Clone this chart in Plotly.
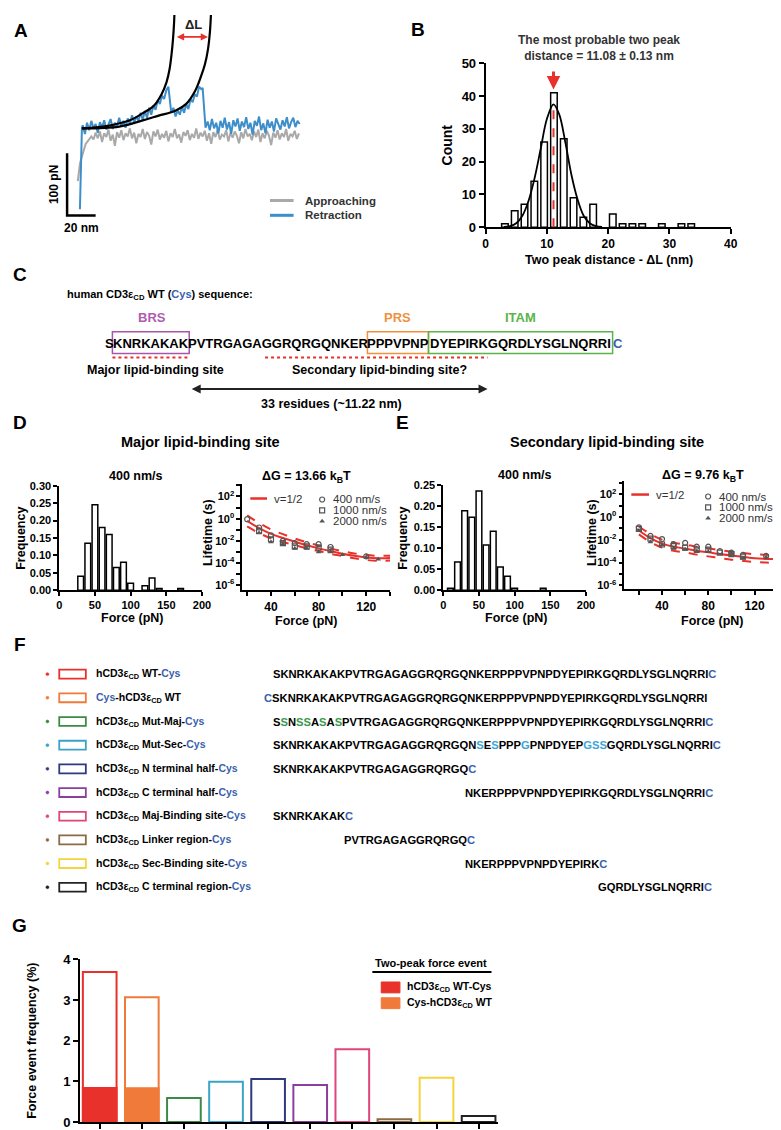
import plotly.graph_objects as go

W, H = 781, 1130
FONT = "Arial, 'Liberation Sans', Helvetica, sans-serif"
CYS = "#3b5fae"
RED = "#e8312b"

# ---------------- Panel A: force-distance traces (nm, pN)
approach_x = [-1.5, -1.0, -0.5, 0.0, 0.8, 1.6, 2.4, 3.2, 4.0, 5.0, 6.0, 7.0, 8.0,
              9.5, 11, 12.5, 14, 15.5, 17, 18.5, 20, 21.5, 23, 24.5, 26, 27.5, 29, 30.5, 32, 33.5, 35,
              36.5, 38, 39.5, 41, 42.5, 44, 45.5, 47, 48.5, 50, 51.5, 53, 54.5, 56, 57.5, 59, 60.5, 62,
              63.5, 65, 66.5, 68, 69.5, 71, 72.5, 74, 75.5, 77, 78.5, 80, 81.5, 83, 84.5, 86, 87.5, 89,
              90.5, 92, 93.5, 95, 96.5, 98, 99.5, 101, 102.5, 104, 105.5, 107, 108.5, 110, 111.5, 113,
              114.5, 116, 117.5, 119, 120.5, 122, 123.5, 125, 126.5, 128, 129.5, 131, 132.5, 134, 135.5,
              137, 138.5, 140, 141.5, 143, 144.5, 146, 147.5, 149, 150.5, 152, 153.5]
approach_y = [-80, -68, -60, -52, -45, -38, -31, -25, -20, -17, -14, -11, -8,
              -13, -2, -11, 0, -17, -3, -9, 3, -15, -5,
              -23, -1, -10, 2, -14, -3, -8, 5, -11, -2,
              -19, -4, -9, 4, -12, -1, -7, -21, 0, -8,
              3, -13, -4, -10, 1, -16, -3, -9, 4, -11,
              -5, -18, -1, -7, 2, -14, -4, -10, 5, -12,
              -2, -8, 1, -15, -3, -20, -1, -9, 3, -13,
              -5, -8, 2, -16, -2, -10, 0, -7, -19, -1,
              -11, 4, -8, -4, -14, 0, -9, 3, -17, -3,
              -11, 1, -7, -22, -2, -10, 2, -13, -3, -9,
              4, -15, -4, -8, 1, -12, -3]
retract_x = [0.0, 0.2, 0.4, 0.7, 1.0, 1.4,
             2, 3.5, 5, 6.5, 8, 9.5, 11, 12.5, 14, 15.5, 17, 18.5, 20, 21.5, 23, 24.5, 26, 27.5, 29,
             30.5, 32, 33.5, 35, 36.5, 38, 39.5, 41, 42.5, 44, 45.5, 47, 48.5, 50, 51.5, 53, 54.5, 56,
             57.5, 59, 60.5, 62, 63, 64, 65.5, 67, 68.5, 70, 71.5, 73, 74.5, 76, 77.5, 79, 80.5, 82,
             83.5, 85, 86, 87, 88, 89.5, 91, 92.5, 94, 95.5, 97, 98.5, 100, 101.5, 103, 104.5, 106,
             107.5, 109, 110.5, 112, 113.5, 115, 116.5, 118, 119.5, 121, 122.5, 124, 125.5, 127, 128.5,
             130, 131.5, 133, 134.5, 136, 137.5, 139, 140.5, 142, 143.5, 145, 146.5, 148, 149.5, 151,
             152.5, 154]
retract_y = [-125, -100, -70, -38, -12, 6,
             10, -4, 14, 2, 17, 5, 12, -2, 15, 6, 18, 3, 11, 20, 4, 14, 8, 22, 9,
             17, 6, 21, 12, 26, 14, 24, 17, 30, 19, 33, 22, 38, 27, 42, 35, 50, 44,
             58, 52, 66, 72, 48, 30, 38, 24, 34, 27, 40, 30, 44, 36, 52, 47, 60, 56,
             72, 68, 70, 30, 6, 16, 2, 20, 5, 14, -3, 17, 6, 22, 3, 15, -4,
             18, 8, 21, 1, 16, 7, 23, 4, 14, -5, 17, 9, 24, 2, 13,
             -3, 19, 6, 16, 0, 21, 10, 3, 18, 8, 23, 5, 15, 22, 7,
             17, 12]
wlc1_x = [1.4, 20.7, 34.5, 43.5, 51.8, 57.3, 60.7, 62.8, 64.2, 65.2, 65.9, 66.2]
wlc1_y = [4.8, 9.5, 17.5, 28.6, 41.3, 60.3, 79.4, 100, 123.8, 147.6, 171.4, 187.3]
wlc2_x = [1.4, 27.6, 43.5, 55.2, 66.9, 74.5, 80.7, 84.9, 87.6, 89.7, 91.1, 91.8]
wlc2_y = [4.8, 7.9, 17.5, 25.4, 33.3, 44.4, 65.1, 88.9, 108, 131.7, 160.3, 187.3]
dL_from, dL_to, dL_level = 66.9, 89.7, 152
scale_nm, scale_pN = 20, 100

# ---------------- Panel B: two peak distance histogram
dist_centers = [3.15, 4.75, 6.35, 7.95, 9.55, 11.15, 12.75, 14.35, 15.95, 17.55,
                20.75, 22.35, 23.95, 25.55, 28.75, 31.95, 33.55]
dist_counts = [1, 5, 7, 14, 26, 41, 27, 9, 3, 7, 4, 1, 1, 1, 1, 1, 1]
gfit_x = [3, 4, 5, 6, 7, 8, 9, 10, 11.08, 12, 13, 14, 15, 16, 17, 18, 19]
gfit_y = [0.05, 0.3, 1.2, 3.5, 8, 15, 24, 33, 37.5, 34.5, 26, 16, 8.5, 3.5, 1.2, 0.3, 0.05]
peak_dist = 11.08

# ---------------- Panel D / E: force histograms and lifetimes
force_centers_D = [30, 40, 50, 60, 70, 80, 90, 100, 120, 130, 140, 170]
force_freq_D = [0.04, 0.135, 0.245, 0.18, 0.16, 0.065, 0.08, 0.02, 0.013, 0.035, 0.005, 0.005]
force_centers_E = [10, 20, 30, 40, 50, 60, 70, 80, 90, 100, 140]
force_freq_E = [0.005, 0.067, 0.188, 0.173, 0.235, 0.107, 0.14, 0.055, 0.033, 0.005, 0.005]

F400_D = [20, 30, 40, 50, 60, 70, 80, 90, 120]
tau400_D = [0.89, 0.16, 0.032, 0.01, 0.0063, 0.005, 0.005, 0.0028, 0.0004]
F1000_D = [30, 40, 50, 60, 70, 80, 90]
tau1000_D = [0.079, 0.014, 0.0063, 0.0032, 0.0032, 0.0025, 0.0016]
F2000_D = [30, 40, 50, 60, 70, 80, 90, 100, 120, 130]
tau2000_D = [0.05, 0.0079, 0.005, 0.002, 0.002, 0.001, 0.001, 0.00056, 0.00032, 0.00022]

F400_E = [20, 30, 40, 50, 60, 70, 80, 90, 100, 110, 130]
tau400_E = [0.126, 0.022, 0.0117, 0.0042, 0.0054, 0.0025, 0.0025, 0.001, 0.00074, 0.00047, 0.00038]
F1000_E = [20, 30, 40, 50, 60, 70, 80, 90, 100, 110]
tau1000_E = [0.093, 0.0126, 0.0039, 0.0028, 0.0021, 0.0014, 0.0014, 0.00074, 0.00056, 0.00033]
F2000_E = [20, 30, 40, 50, 60, 70, 80, 100, 110, 130, 140]
tau2000_E = [0.066, 0.0066, 0.0035, 0.0017, 0.0014, 0.0009, 0.0009, 0.00063, 0.00024, 0.0003, 0.0001]

fitF = [20, 30, 40, 50, 60, 70, 80, 90, 100, 110, 120, 130, 140]
fit_D = [0.63, 0.14, 0.043, 0.018, 0.0083, 0.004, 0.0021, 0.0012, 0.0007, 0.00045, 0.00032, 0.00027, 0.00028]
fit_D_hi = [2.0, 0.4, 0.107, 0.04, 0.0166, 0.0076, 0.0039, 0.002, 0.0012, 0.00074, 0.00052, 0.00045, 0.00046]
fit_D_lo = [0.2, 0.05, 0.017, 0.008, 0.0042, 0.0021, 0.0012, 0.00068, 0.00043, 0.00027, 0.00019, 0.00016, 0.00017]
fit_E = [0.066, 0.014, 0.0047, 0.0025, 0.0017, 0.0011, 0.0008, 0.00056, 0.00041, 0.00032, 0.00024, 0.00021, 0.0002]
fit_E_hi = [0.148, 0.032, 0.0105, 0.0056, 0.0039, 0.0025, 0.0018, 0.00126, 0.00091, 0.00071, 0.00054, 0.00048, 0.00045]
fit_E_lo = [0.03, 0.0063, 0.0021, 0.0011, 0.00078, 0.0005, 0.00035, 0.00025, 0.00018, 0.00014, 0.00011, 0.0001, 0.00009]

# ---------------- Panel F / G: constructs
constructs = ["WT-Cys", "Cys-WT", "Mut-Maj-Cys", "Mut-Sec-Cys", "N terminal half-Cys",
              "C terminal half-Cys", "Maj-Binding site-Cys", "Linker region-Cys",
              "Sec-Binding site-Cys", "C terminal region-Cys"]
construct_colors = ["#e8312b", "#f07a3a", "#3b8a45", "#3aa3c6", "#2d3a80", "#8a3f9e",
                    "#e0457b", "#8b6a44", "#f3d43c", "#222222"]
event_freq = [3.69, 3.07, 0.59, 0.99, 1.06, 0.91, 1.79, 0.07, 1.09, 0.15]
two_peak_freq = [0.84, 0.83]

fig = go.Figure()

# ---------- helpers (pixel <-> paper)
def dx(a, b):
    return [a / W, b / W]

def dy(top, bottom):
    return [1 - bottom / H, 1 - top / H]

def tf(size=12):
    return dict(family=FONT, size=size, color="black", weight="bold")

def axis(**kw):
    d = dict(showline=True, linecolor="black", linewidth=1.8, ticks="outside", ticklen=5,
             tickwidth=1.5, tickcolor="black", showgrid=False, zeroline=False, tickfont=tf(12))
    d.update(kw)
    return d

# ---------- Panel A traces
fig.add_trace(go.Scatter(x=approach_x, y=approach_y, mode="lines",
                         line=dict(color="#a9a9a9", width=2), xaxis="x", yaxis="y"))
fig.add_trace(go.Scatter(x=retract_x, y=retract_y, mode="lines",
                         line=dict(color="#3d8ec9", width=2), xaxis="x", yaxis="y"))
for cx, cy in [(wlc1_x, wlc1_y), (wlc2_x, wlc2_y)]:
    fig.add_trace(go.Scatter(x=cx, y=cy, mode="lines", line=dict(color="black", width=2.2, shape="spline"),
                             xaxis="x", yaxis="y"))
sx0, sy0 = -9, -135
fig.add_trace(go.Scatter(x=[sx0, sx0, sx0 + scale_nm], y=[sy0 + scale_pN, sy0, sy0], mode="lines",
                         line=dict(color="black", width=2.5), xaxis="x", yaxis="y"))

# ---------- Panel B
fig.add_trace(go.Bar(x=dist_centers, y=dist_counts, width=1.07,
                     marker=dict(color="white", line=dict(color="black", width=1.5)),
                     xaxis="x2", yaxis="y2"))
fig.add_trace(go.Scatter(x=[peak_dist, peak_dist], y=[0, max(gfit_y)], mode="lines",
                         line=dict(color=RED, width=2, dash="dash"), xaxis="x2", yaxis="y2"))
fig.add_trace(go.Scatter(x=gfit_x, y=gfit_y, mode="lines", line=dict(color="black", width=1.8, shape="spline"),
                         xaxis="x2", yaxis="y2"))

# ---------- Panels D/E histograms
for cen, fr, xa, ya in [(force_centers_D, force_freq_D, "x3", "y3"), (force_centers_E, force_freq_E, "x5", "y5")]:
    fig.add_trace(go.Bar(x=cen, y=fr, width=8,
                         marker=dict(color="white", line=dict(color="black", width=1.5)),
                         xaxis=xa, yaxis=ya))

# ---------- Panels D/E lifetimes
MK = "#555555"
for (f4, t4, f1, t1, f2, t2, fit, hi, lo, xa, ya) in [
        (F400_D, tau400_D, F1000_D, tau1000_D, F2000_D, tau2000_D, fit_D, fit_D_hi, fit_D_lo, "x4", "y4"),
        (F400_E, tau400_E, F1000_E, tau1000_E, F2000_E, tau2000_E, fit_E, fit_E_hi, fit_E_lo, "x6", "y6")]:
    for band in (hi, lo):
        fig.add_trace(go.Scatter(x=fitF, y=band, mode="lines", line=dict(color=RED, width=2, dash="dash", shape="spline"),
                                 xaxis=xa, yaxis=ya))
    fig.add_trace(go.Scatter(x=fitF, y=fit, mode="lines", line=dict(color=RED, width=2, shape="spline"),
                             xaxis=xa, yaxis=ya))
    fig.add_trace(go.Scatter(x=f4, y=t4, mode="markers", marker=dict(symbol="circle-open", size=5, color=MK, line=dict(width=1.2)),
                             xaxis=xa, yaxis=ya))
    fig.add_trace(go.Scatter(x=f1, y=t1, mode="markers", marker=dict(symbol="square-open", size=5, color=MK, line=dict(width=1.2)),
                             xaxis=xa, yaxis=ya))
    fig.add_trace(go.Scatter(x=f2, y=t2, mode="markers", marker=dict(symbol="triangle-up", size=5, color=MK),
                             xaxis=xa, yaxis=ya))

# ---------- Panel G bars
fig.add_trace(go.Bar(x=constructs, y=event_freq, width=0.8,
                     marker=dict(color="white", line=dict(color=construct_colors, width=2)),
                     xaxis="x7", yaxis="y7"))
fig.add_trace(go.Bar(x=constructs[:2], y=two_peak_freq, width=0.8,
                     marker=dict(color=construct_colors[:2], line=dict(color=construct_colors[:2], width=2)),
                     xaxis="x7", yaxis="y7"))

# ---------- legend marker glyphs (pixel overlay)
for lx, ly in [(316, 491), (708, 488)]:
    fig.add_trace(go.Scatter(x=[lx], y=[ly], mode="markers", marker=dict(symbol="circle-open", size=5, color=MK, line=dict(width=1.2)),
                             xaxis="x8", yaxis="y8"))
    fig.add_trace(go.Scatter(x=[lx], y=[ly + 11], mode="markers", marker=dict(symbol="square-open", size=5, color=MK, line=dict(width=1.2)),
                             xaxis="x8", yaxis="y8"))
    fig.add_trace(go.Scatter(x=[lx], y=[ly + 22], mode="markers", marker=dict(symbol="triangle-up", size=5, color=MK),
                             xaxis="x8", yaxis="y8"))

# ---------- axes
decades = [-6, -5, -4, -3, -2, -1, 0, 1, 2, 3]
log_vals = [10 ** d for d in decades]
log_text = ["10<sup>%d</sup>" % d if d % 2 == 0 else "" for d in decades]

fig.update_layout(
    xaxis=dict(domain=dx(55, 300), range=[-10.35, 158.7], visible=False),
    yaxis=dict(domain=dy(0, 215), range=[-153.9, 187.3], visible=False),
    xaxis2=axis(domain=dx(482, 731), range=[0, 40], tickvals=[0, 10, 20, 30, 40], anchor="y2", tickfont=tf(12)),
    yaxis2=axis(domain=dy(49, 215), range=[0, 50], tickvals=[0, 10, 20, 30, 40, 50], anchor="x2", tickfont=tf(13)),
    xaxis3=axis(domain=dx(49, 194), range=[0, 200], tickvals=[0, 50, 100, 150, 200], anchor="y3",
                tickfont=tf(11), ticklen=4),
    yaxis3=axis(domain=dy(477, 583), range=[0, 0.30], tickvals=[0, 0.05, 0.10, 0.15, 0.20, 0.25, 0.30],
                tickformat=".2f", anchor="x3", tickfont=tf(11), ticklen=4),
    xaxis4=axis(domain=dx(235, 385), range=[16, 140], tickvals=[20, 40, 60, 80, 100, 120, 140],
                ticktext=["", "40", "", "80", "", "120", ""], anchor="y4", tickfont=tf(12), ticklen=4),
    yaxis4=axis(domain=dy(475, 583), type="log", range=[-6.45, 3.15], tickvals=log_vals, ticktext=log_text,
                anchor="x4", tickfont=tf(11), ticklen=4),
    xaxis5=axis(domain=dx(439, 584), range=[0, 200], tickvals=[0, 50, 100, 150, 200], anchor="y5",
                tickfont=tf(11), ticklen=4),
    yaxis5=axis(domain=dy(476, 583), range=[0, 0.25], tickvals=[0, 0.05, 0.10, 0.15, 0.20, 0.25],
                tickformat=".2f", anchor="x5", tickfont=tf(11), ticklen=4),
    xaxis6=axis(domain=dx(623, 781), range=[7.5, 142], tickvals=[20, 40, 60, 80, 100, 120, 140],
                ticktext=["", "40", "", "80", "", "120", ""], anchor="y6", tickfont=tf(12), ticklen=4),
    yaxis6=axis(domain=dy(472, 582), type="log", range=[-6.35, 3.2], tickvals=log_vals, ticktext=log_text,
                anchor="x6", tickfont=tf(11), ticklen=4),
    xaxis7=axis(domain=dx(70, 495), range=[-0.47, 9.47], type="category", showticklabels=False, anchor="y7"),
    yaxis7=axis(domain=dy(957, 1122), range=[0, 4], tickvals=[0, 1, 2, 3, 4], anchor="x7", tickfont=tf(13)),
    xaxis8=dict(domain=[0, 1], range=[0, W], visible=False, anchor="y8"),
    yaxis8=dict(domain=[0, 1], range=[H, 0], visible=False, anchor="x8"),
)

# ---------- annotations & shapes
ann = []
shp = []

def T(x, y, s, size=12, color="black", xanchor="center", angle=0, bold=True):
    ann.append(dict(x=x, y=y, xref="x8", yref="y8", text=s, showarrow=False, xanchor=xanchor, yanchor="middle",
                    textangle=angle, font=dict(family=FONT, size=size, color=color,
                                               weight="bold" if bold else "normal")))

def L(x0, y0, x1, y1, color="black", width=2, dash="solid"):
    shp.append(dict(type="line", xref="x8", yref="y8", x0=x0, y0=y0, x1=x1, y1=y1,
                    line=dict(color=color, width=width, dash=dash)))

def R(x0, y0, x1, y1, color, width=1.5, fill="rgba(0,0,0,0)"):
    shp.append(dict(type="rect", xref="x8", yref="y8", x0=x0, y0=y0, x1=x1, y1=y1,
                    line=dict(color=color, width=width), fillcolor=fill))

# panel letters
for letter, lx, ly in [("A", 10, 16), ("B", 413, 15), ("C", 9, 263), ("D", 9, 413), ("E", 398, 413),
                       ("F", 9, 638), ("G", 9, 923)]:
    T(lx, ly, letter, size=19, xanchor="center")

# Panel A
ann.append(dict(x=dL_to, y=dL_level, ax=dL_from, ay=dL_level, xref="x", yref="y", axref="x", ayref="y",
                text="", showarrow=True, arrowside="end+start", arrowhead=2, arrowsize=0.8,
                arrowwidth=1.8, arrowcolor=RED))
T(185, 10, "ΔL", size=13, color="#222")
T(43, 172, "100 pN", size=12, angle=-90)
T(72, 216, "20 nm", size=12)
L(263, 188, 287, 188, "#a9a9a9", 3)
L(263, 203, 287, 203, "#3d8ec9", 3)
T(297, 188, "Approaching", size=11.5, color="#333", xanchor="left")
T(297, 203, "Retraction", size=11.5, color="#333", xanchor="left")

# Panel B
ann.append(dict(x=peak_dist, y=42, ax=peak_dist, ay=48, xref="x2", yref="y2", axref="x2", ayref="y2",
                text="", showarrow=True, arrowhead=2, arrowsize=0.9, arrowwidth=3, arrowcolor=RED))
T(597, 33, "The most probable two peak<br>distance = 11.08 ± 0.13 nm", size=12, color="#333")
T(443, 132, "Count", size=14, angle=-90)
T(607, 248, "Two peak distance - ΔL (nm)", size=12.5)

# Panel C
T(55, 284, 'human CD3ε<sub>CD</sub> WT (<span style="color:%s">Cys</span>) sequence:' % CYS, size=11, xanchor="left")
T(143, 307, "BRS", size=13, color="#b05cb0")
T(393, 307, "PRS", size=13, color="#f09040")
T(517, 307, "ITAM", size=13, color="#5ab44a")
seq_y = 333
for seg, cx, col in [("S", 100, "black"), ("KNRKAKAK", 142, "black"), ("PVTRGAGAGGRQRGQNKER", 271.5, "black"),
                     ("PPPVPNP", 393, "black"), ("DYEPIRKGQRDLYSGLNQRRI", 517.5, "black"), ("C", 616, CYS)]:
    T(cx, seq_y, seg, size=13, color=col)
R(103, 321, 181, 343, "#a956a9")
R(362, 321, 424, 343, "#f0923a")
R(424, 321, 611, 343, "#5ab44a")
L(103, 347, 181, 347, RED, 2, "dot")
L(258, 347, 484, 347, RED, 2, "dot")
T(147, 360, "Major lipid-binding site", size=12.5)
T(374, 360, "Secondary lipid-binding site?", size=12.5)
ann.append(dict(x=484, y=379, ax=182, ay=379, xref="x8", yref="y8", axref="x8", ayref="y8", text="",
                showarrow=True, arrowside="end+start", arrowhead=2, arrowsize=0.9, arrowwidth=2, arrowcolor="#222"))
T(326, 394, "33 residues (~11.22 nm)", size=12.5)

# Panel D / E texts
T(192, 433, "Major lipid-binding site", size=14.5)
T(605, 433, "Secondary lipid-binding site", size=14.5)
T(127, 467, "400 nm/s", size=12.5)
T(522, 466, "400 nm/s", size=12.5)
T(300, 468, "ΔG = 13.66 k<sub>B</sub>T", size=12.5)
T(703, 467, "ΔG = 9.76 k<sub>B</sub>T", size=12.5)
T(10, 530, "Frequency", size=12.5, angle=-90)
T(398, 530, "Frequency", size=12.5, angle=-90)
T(200, 524, "Lifetime (s)", size=12.5, angle=-90)
T(590, 524, "Lifetime (s)", size=12.5, angle=-90)
T(123, 611, "Force (pN)", size=12.5)
T(513, 611, "Force (pN)", size=12.5)
T(300, 614, "Force (pN)", size=12.5)
T(712, 614, "Force (pN)", size=12.5)
for lx0, lx1, ly, tx in [(243, 260, 490, 265), (630, 648, 486, 653)]:
    L(lx0, ly, lx1, ly, RED, 2.5)
    T(tx, ly, "v=1/2", size=11.5, color="#333", xanchor="left", bold=False)
for lx, ly in [(325, 491), (717, 488)]:
    for k, lab in enumerate(["400 nm/s", "1000 nm/s", "2000 nm/s"]):
        T(lx, ly + 11 * k, lab, size=11.5, color="#333", xanchor="left", bold=False)

# Panel F rows
def sp(s, c):
    return '<span style="color:%s">%s</span>' % (c, s)

GRN, TEA = "#3a9a4a", "#3aa6d6"
hcd = "hCD3ε<sub>CD</sub> "
labels = [hcd + "WT-" + sp("Cys", CYS),
          sp("Cys", CYS) + "-hCD3ε<sub>CD</sub> WT",
          hcd + "Mut-Maj-" + sp("Cys", CYS),
          hcd + "Mut-Sec-" + sp("Cys", CYS),
          hcd + "N terminal half-" + sp("Cys", CYS),
          hcd + "C terminal half-" + sp("Cys", CYS),
          hcd + "Maj-Binding site-" + sp("Cys", CYS),
          hcd + "Linker region-" + sp("Cys", CYS),
          hcd + "Sec-Binding site-" + sp("Cys", CYS),
          hcd + "C terminal region-" + sp("Cys", CYS)]
WT = "SKNRKAKAKPVTRGAGAGGRQRGQNKERPPPVPNPDYEPIRKGQRDLYSGLNQRRI"
Cb = sp("C", CYS)
seqs = [WT + Cb,
        Cb + WT,
        "S" + sp("S", GRN) + "N" + sp("SS", GRN) + "A" + sp("S", GRN) + "A" + sp("S", GRN)
        + "PVTRGAGAGGRQRGQNKERPPPVPNPDYEPIRKGQRDLYSGLNQRRI" + Cb,
        "SKNRKAKAKPVTRGAGAGGRQRGQN" + sp("S", TEA) + "E" + sp("S", TEA) + "PPP" + sp("G", TEA)
        + "PNPDYEP" + sp("GSS", TEA) + "GQRDLYSGLNQRRI" + Cb,
        "SKNRKAKAKPVTRGAGAGGRQRGQ" + Cb,
        "NKERPPPVPNPDYEPIRKGQRDLYSGLNQRRI" + Cb,
        "SKNRKAKAK" + Cb,
        "PVTRGAGAGGRQRGQ" + Cb,
        "NKERPPPVPNPDYEPIRK" + Cb,
        "GQRDLYSGLNQRRI" + Cb]
seq_x = [264, 255, 264, 264, 264, 459, 264, 336, 459, 594]
for i in range(len(constructs)):
    yy = 668 + 24 * i
    col = construct_colors[i]
    shp.append(dict(type="circle", xref="x8", yref="y8", x0=35.5, x1=38.5, y0=yy - 1.5, y1=yy + 1.5,
                    line=dict(color=col, width=0.5), fillcolor=col))
    R(49, yy - 4.5, 76, yy + 4.5, col, 1.8)
    T(84, yy, labels[i], size=10.5, xanchor="left")
    T(seq_x[i], yy, seqs[i], size=11.2, xanchor="left")

# Panel G
T(22, 1040, "Force event frequency (%)", size=12.5, angle=-90)
T(427, 961, "Two-peak force event", size=11)
L(367, 970, 488, 970, "black", 2)
R(376, 980, 395, 991, construct_colors[0], 1, construct_colors[0])
R(376, 996, 395, 1007, construct_colors[1], 1, construct_colors[1])
T(400, 985.5, "hCD3ε<sub>CD</sub> WT-Cys", size=10.5, xanchor="left")
T(400, 1001.5, "Cys-hCD3ε<sub>CD</sub> WT", size=10.5, xanchor="left")

fig.update_layout(annotations=ann, shapes=shp, width=W, height=H, margin=dict(l=0, r=0, t=0, b=0),
                  paper_bgcolor="white", plot_bgcolor="rgba(0,0,0,0)", showlegend=False,
                  barmode="overlay", font=dict(family=FONT))

fig.write_html("out.html")
